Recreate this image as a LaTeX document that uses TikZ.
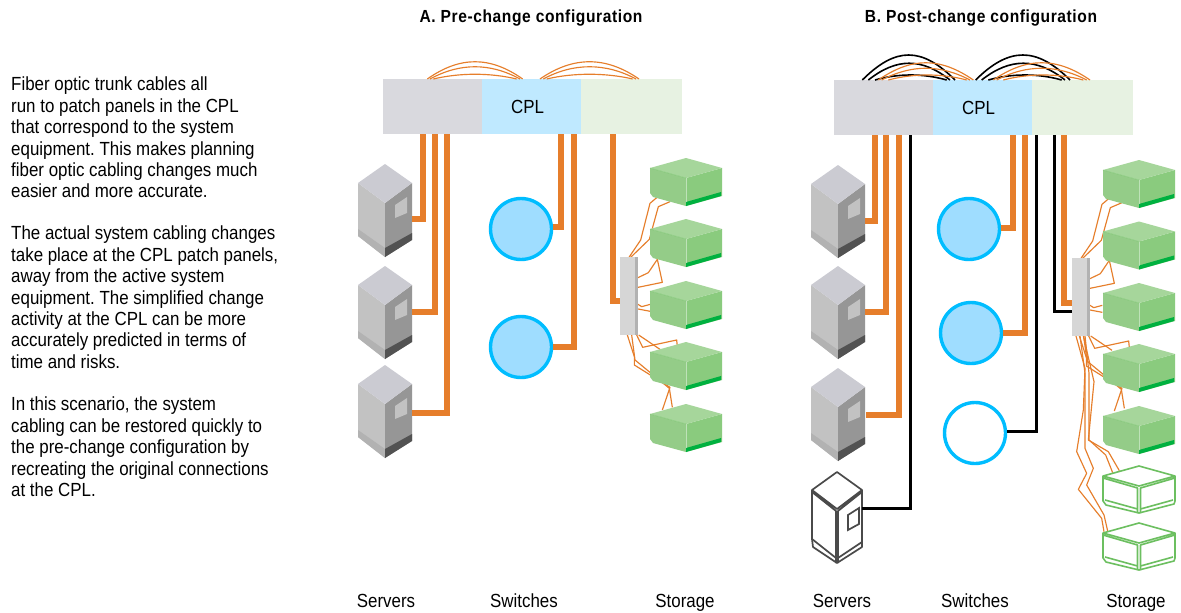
\documentclass[tikz,border=0pt]{standalone}
\usepackage{fontspec}
\setmainfont[FakeStretch=0.89]{Liberation Sans}
\newfontfamily\headfont[FakeStretch=0.89,LetterSpace=3.4]{Liberation Sans}
\frenchspacing
\definecolor{fibre}{HTML}{E67E2B}
\definecolor{cplgray}{HTML}{D9D9DE}
\definecolor{cplblue}{HTML}{BFE9FF}
\definecolor{cplgreen}{HTML}{E7F2E2}
\definecolor{swfill}{HTML}{9FDDFF}
\definecolor{swline}{HTML}{00BDFF}
\definecolor{stline}{HTML}{6CBF60}
\definecolor{rackline}{HTML}{4A4A4A}
\tikzset{
 x=1pt,y=-1pt,
 fibrethick/.style={draw=fibre,line width=5.2pt,miter limit=10},
 blackthick/.style={draw=black,line width=3pt},
 thin fibre/.style={draw=fibre,line width=1.15pt,line join=round},
 thin black/.style={draw=black,line width=1.6pt},
 zoomA/.style={shift={(#1)},scale=0.33333},
 cplpart/.style={minimum height=55pt,inner sep=0pt,outer sep=0pt,text=black,font=\fontsize{19}{20}\selectfont},
 switchnode/.style={circle,minimum size=61pt,inner sep=0pt,line width=3.4pt,draw=swline,fill=swfill},
 switchopen/.style={circle,minimum size=61pt,inner sep=0pt,line width=3.4pt,draw=swline,fill=white},
 panelnode/.style={minimum width=15pt,minimum height=78pt,inner sep=0pt,fill=black!16,anchor=north west},
 caption/.style={font=\fontsize{19}{20}\selectfont,inner sep=0pt,anchor=base},
 heading/.style={font=\headfont\fontsize{17.5}{20}\selectfont\bfseries,inner sep=0pt,anchor=base},
 para/.style={font=\fontsize{19}{21.35}\selectfont,align=left,anchor=north west,inner sep=0pt},
 rackfull/.pic={
  \fill[black!24] (-27,19)--(0,39)--(0,93)--(-27,72)--cycle;
  \fill[black!30] (-27,65)--(0,84)--(0,93)--(-27,72)--cycle;
  \fill[black!41] (27,19)--(0,39)--(0,93)--(27,76)--cycle;
  \fill[black!68] (27,69)--(0,84)--(0,93)--(27,76)--cycle;
  \fill[HTML=CBCBD2] (0,0)--(-27,19)--(0,39)--(27,19)--cycle;
  \fill[black!24] (10,41)--(22,33)--(22,49)--(10,54)--cycle;
 },
 rackoutline/.pic={
  \filldraw[fill=white,draw=rackline,line width=1.7pt,line join=round]
    (0,0)--(-25,18)--(-25,67)--(-24,75)--(0,91)--(25,75)--(25,70)--(25,18)--cycle;
  \draw[draw=rackline,line width=1.7pt,line join=round]
    (-25,18)--(0,37)--(25,18) (-25,20)--(-1,39)--(-1,91) (1,91)--(1,39)--(25,20)
    (-25,67)--(-1,86) (1,86)--(25,70);
  \draw[draw=rackline,line width=1.7pt] (11,43)--(22,36)--(22,52)--(11,58)--cycle;
 },
 shelffull/.pic={
  \fill[HTML=94CC88] (-36,10)--(0,20)--(0,48)--(-33,39)--(-36,35)--cycle;
  \fill[HTML=8ACB7E] (36,10)--(0,20)--(0,48)--(36,38)--cycle;
  \fill[HTML=00B140] (35,34)--(0,44)--(0,48)--(35,38)--cycle;
  \fill[HTML=A6D69B] (0,0)--(-36,10)--(0,20)--(36,10)--cycle;
  \draw[white,opacity=.45,line width=.6pt] (0,20)--(0,44);
  \draw[stline,opacity=.5,line width=.6pt] (-36,10)--(0,20);
 },
 shelfoutline/.pic={
  \filldraw[fill=white,draw=stline,line width=1.6pt,line join=round]
    (0,0)--(-36,10)--(-36,35)--(-33,39)--(0,47)--(35,38)--(36,35)--(36,10)--cycle;
  \draw[stline,line width=1.6pt,line join=round]
    (-36,10)--(0,20)--(36,10) (-36,12)--(-1.5,22)--(-1.5,47) (1.5,47)--(1.5,22)--(36,12)
    (-34,34)--(-1.5,43) (1.5,43)--(34,34);
 },
 HTML/.code={\definecolor{tmpc}{HTML}{#1}\pgfkeysalso{fill=tmpc}},
}
% short thin cables from the patch panel to the five shelves
\newcommand{\shelfcables}{%
  \draw[thin fibre] (117,322)--(152,270)--(180,160)--(200,143);
  \draw[thin fibre] (122,322)--(178,268)--(205,170)--(240,155);
  \draw[thin fibre] (144,383)--(175,368)--(202,328)--(217,397)--(144,412);
  \draw[thin fibre] (144,463)--(155,470)--(181,463);
  \draw[thin fibre] (144,477)--(181,484);
  \draw[thin fibre] (140,555)--(158,592)--(260,570)--(262,590);
  \draw[thin fibre] (146,555)--(210,598);
  \draw[thin fibre] (112,555)--(133,620)--(133,645)--(240,712)--(217,780);
  \draw[thin fibre] (125,555)--(135,630)--(238,715)--(247,772);
}
\begin{document}
\begin{tikzpicture}
\useasboundingbox (0,0) rectangle (1181,613);
\fill[white] (0,0) rectangle (1181,613);

% ---- text
\node[para] (t1) at (11,77) {Fiber optic trunk cables all\\run to patch panels in the CPL\\that correspond to the system\\equipment. This makes planning\\fiber optic cabling changes much\\easier and more accurate.};
\node[para] (t2) at (11,226) {The actual system cabling changes\\take place at the CPL patch panels,\\away from the active system\\equipment. The simplified change\\activity at the CPL can be more\\accurately predicted in terms of\\time and risks.};
\node[para] (t3) at (11,397) {In this scenario, the system\\cabling can be restored quickly to\\the pre-change configuration by\\recreating the original connections\\at the CPL.};
\node[heading] (hA) at (531,23) {A. Pre-change configuration};
\node[heading] (hB) at (981,23) {B. Post-change configuration};
\node[caption] (c1) at (386,607) {Servers};
\node[caption] (c2) at (524,607) {Switches};
\node[caption] (c3) at (685,607) {Storage};
\node[caption] (c4) at (842,607) {Servers};
\node[caption] (c5) at (975,607) {Switches};
\node[caption] (c6) at (1136,607) {Storage};

% ---- CPL A
\node[cplpart,fill=cplgray,minimum width=99pt] (aL) at (432.5,106.5) {};
\node[cplpart,fill=cplblue,minimum width=99pt] (aM) at (531.5,106.5) {CPL\rule{8pt}{0pt}};
\node[cplpart,fill=cplgreen,minimum width=101pt] (aR) at (631.5,106.5) {};
% ---- CPL B
\node[cplpart,fill=cplgray,minimum width=99pt] (bL) at (883.5,107.5) {};
\node[cplpart,fill=cplblue,minimum width=99pt] (bM) at (982.5,107.5) {CPL\rule{8pt}{0pt}};
\node[cplpart,fill=cplgreen,minimum width=101pt] (bR) at (1082.5,107.5) {};

% ---- jumpers A (zoom coordinates)
\begin{scope}[zoomA={340,50}]
 \draw[thin fibre] (262,87) .. controls (360,18) and (450,18) .. (548,87);
 \draw[thin fibre] (270,87) .. controls (360,38) and (450,38) .. (540,87);
 \draw[thin fibre] (280,87) .. controls (360,68) and (450,68) .. (530,87);
 \draw[thin fibre] (600,87) .. controls (700,18) and (797,18) .. (897,87);
 \draw[thin fibre] (610,87) .. controls (700,38) and (797,38) .. (888,87);
 \draw[thin fibre] (620,87) .. controls (700,68) and (797,68) .. (878,87);
\end{scope}
% ---- jumpers B
\begin{scope}[zoomA={800,40}]
 \draw[thin black] (187,120) .. controls (287,20) and (365,20) .. (465,120);
 \draw[thin black] (205,120) .. controls (290,53) and (365,53) .. (450,120);
 \draw[thin black] (225,120) .. controls (295,100) and (370,100) .. (440,120);
 \draw[thin fibre] (235,120) .. controls (335,51) and (420,51) .. (520,120);
 \draw[thin fibre] (245,120) .. controls (335,73) and (420,73) .. (510,120);
 \draw[thin fibre] (265,120) .. controls (340,100) and (425,100) .. (500,120);
 \draw[thin black] (527,120) .. controls (627,20) and (710,20) .. (810,120);
 \draw[thin black] (545,120) .. controls (630,53) and (710,53) .. (795,120);
 \draw[thin black] (565,120) .. controls (635,100) and (715,100) .. (785,120);
 \draw[thin fibre] (580,120) .. controls (680,51) and (770,51) .. (870,120);
 \draw[thin fibre] (590,120) .. controls (680,73) and (770,73) .. (860,120);
 \draw[thin fibre] (610,120) .. controls (685,100) and (775,100) .. (850,120);
\end{scope}

% ---- long thin cables B
\begin{scope}[zoomA={1040,240}]
 \draw[thin fibre] (108,288)--(135,385)--(130,510)--(110,635)--(140,700)--(115,748)--(185,835)--(192,875);
 \draw[thin fibre] (120,288)--(135,400)--(135,625)--(160,685)--(140,735)--(192,825)--(203,873);
 \draw[thin fibre] (130,288)--(162,425)--(145,600)--(205,635)--(238,692);
 \draw[thin fibre] (135,288)--(147,400)--(147,600)--(197,645)--(218,698);
\end{scope}
% ---- short thin cables
\begin{scope}[zoomA={590,150}]\shelfcables\end{scope}
\begin{scope}[zoomA={1042,151}]\shelfcables\end{scope}

% ---- equipment A
\pic at (385,164) {rackfull};
\pic at (385,266) {rackfull};
\pic at (385,365) {rackfull};
\node[switchnode] (aS1) at (521,229) {};
\node[switchnode] (aS2) at (521,347) {};
\foreach \yy in {158,219,281,342,404} \pic at (686,\yy) {shelffull};
\node[panelnode] (aP) at (620,257) {};
\fill[black!30] (635,257) rectangle (638,335);
% ---- equipment B
\pic at (838,165) {rackfull};
\pic at (838,266) {rackfull};
\pic at (838,368) {rackfull};
\pic at (837,472) {rackoutline};
\node[switchnode] (bS1) at (969,229) {};
\node[switchnode] (bS2) at (971,333) {};
\node[switchopen] (bS3) at (975,433) {};
\foreach \yy in {160,221.5,283,344,406} \pic at (1139,\yy) {shelffull};
\pic at (1139,466) {shelfoutline};
\pic at (1139,523) {shelfoutline};
\node[panelnode] (bP) at (1072,258) {};
\fill[black!30] (1087,258) rectangle (1090,336);

% ---- trunk ends
\coordinate (aT1) at (423,134); \coordinate (aE1) at (412,219);
\coordinate (aT2) at (435,134); \coordinate (aE2) at (412,312);
\coordinate (aT3) at (447,134); \coordinate (aE3) at (412,413);
\coordinate (aT4) at (561,134);
\coordinate (aT5) at (574,134);
\coordinate (aT6) at (613,134);
\coordinate (bT1) at (875,135); \coordinate (bE1) at (865,221);
\coordinate (bT2) at (886,135); \coordinate (bE2) at (865,312);
\coordinate (bT3) at (899,135); \coordinate (bE3) at (866,415);
\coordinate (bT4) at (910,135); \coordinate (bE4) at (862,508);
\coordinate (bT5) at (1013,135);
\coordinate (bT6) at (1025,135);
\coordinate (bT7) at (1036,135);
\coordinate (bT8) at (1054,135);
\coordinate (bT9) at (1064,135);

\draw[fibrethick] (aT1) |- (aE1);
\draw[fibrethick] (aT2) |- (aE2);
\draw[fibrethick] (aT3) |- (aE3);
\draw[fibrethick] (aT4) |- (aS1.east |- 0,227);
\draw[fibrethick] (aT5) |- (aS2.east);
\draw[fibrethick] (aT6) |- (aP.west |- 0,301);
\draw[fibrethick] (bT1) |- (bE1);
\draw[fibrethick] (bT2) |- (bE2);
\draw[fibrethick] (bT3) |- (bE3);
\draw[blackthick] (bT4) |- (bE4);
\draw[fibrethick] (bT5) |- (bS1.east |- 0,228);
\draw[fibrethick] (bT6) |- (bS2.east);
\draw[blackthick] (bT7) |- (bS3.east |- 0,431);
\draw[blackthick] (bT8) |- (bP.west |- 0,311);
\draw[fibrethick] (bT9) |- (bP.west |- 0,303);
\end{tikzpicture}
\end{document}
